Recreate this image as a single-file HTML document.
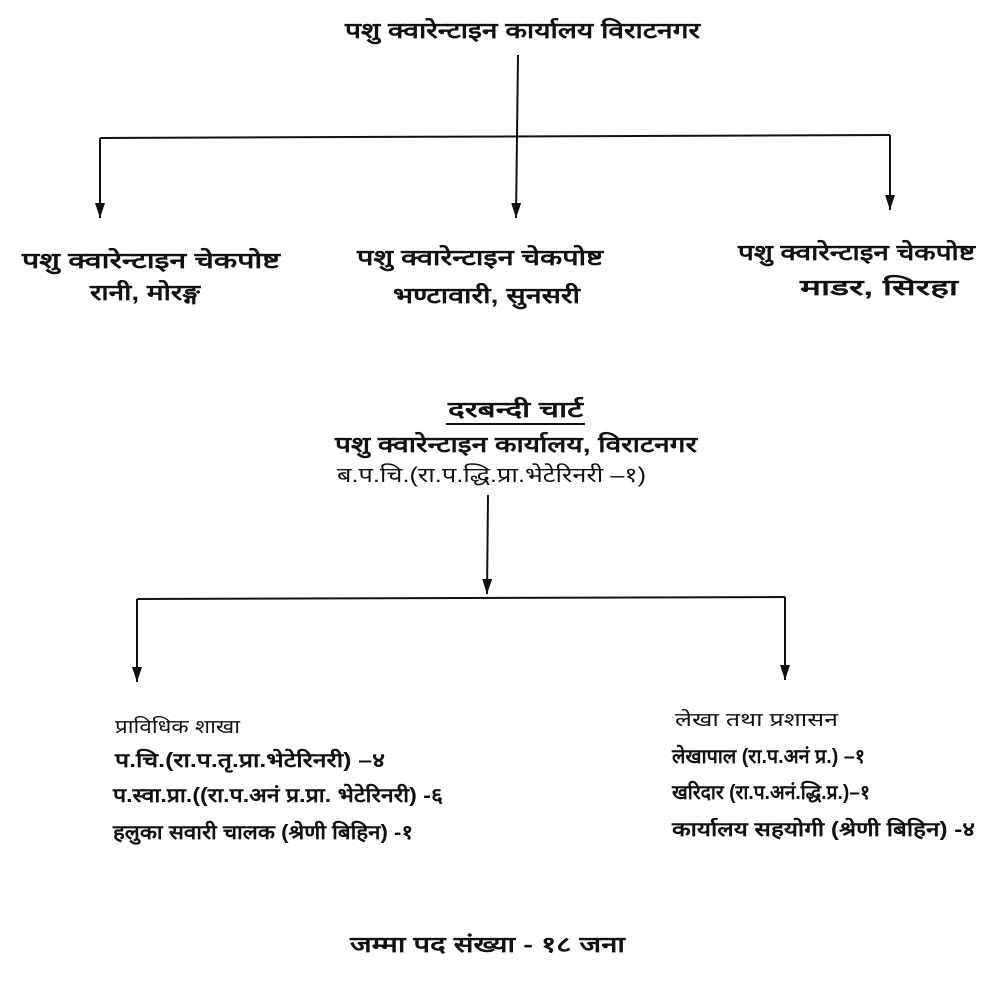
<!DOCTYPE html>
<html><head><meta charset="utf-8"><style>
html,body{margin:0;padding:0;background:#fff;}
svg{display:block}
text{font-family:"Liberation Sans","Noto Sans CJK SC",sans-serif;fill:#111;}
.b{font-weight:bold;font-size:22px}
.n{font-size:21px}
.s{font-weight:bold;font-size:20px}
</style></head><body>
<svg width="995" height="1000" viewBox="0 0 995 1000" xmlns="http://www.w3.org/2000/svg">
<defs><marker id="a" markerWidth="16" markerHeight="12" refX="15" refY="5" orient="auto" markerUnits="userSpaceOnUse"><path d="M0,0 L15,5 L0,10 Z" fill="#111"/></marker></defs>
<g stroke="#111" stroke-width="2" fill="none">
<line x1="518" y1="55" x2="516" y2="218" marker-end="url(#a)"/>
<line x1="100" y1="138" x2="890" y2="135"/>
<line x1="100" y1="138" x2="100" y2="218" marker-end="url(#a)"/>
<line x1="890" y1="135" x2="890" y2="210" marker-end="url(#a)"/>
<line x1="488" y1="495" x2="487" y2="594" marker-end="url(#a)"/>
<line x1="137" y1="599" x2="785" y2="597"/>
<line x1="137" y1="599" x2="137" y2="682" marker-end="url(#a)"/>
<line x1="785" y1="597" x2="785" y2="680" marker-end="url(#a)"/>
</g>
<g>
<text class="b" x="345" y="38" textLength="355" lengthAdjust="spacingAndGlyphs">पशु क्वारेन्टाइन कार्यालय विराटनगर</text>
<text class="b" x="22" y="268" textLength="258" lengthAdjust="spacingAndGlyphs">पशु क्वारेन्टाइन चेकपोष्ट</text>
<text class="b" x="90" y="300" textLength="110" lengthAdjust="spacingAndGlyphs">रानी, मोरङ्ग</text>
<text class="b" x="357" y="265" textLength="246" lengthAdjust="spacingAndGlyphs">पशु क्वारेन्टाइन चेकपोष्ट</text>
<text class="b" x="393" y="303" textLength="187" lengthAdjust="spacingAndGlyphs">भण्टावारी, सुनसरी</text>
<text class="b" x="738" y="260" textLength="237" lengthAdjust="spacingAndGlyphs">पशु क्वारेन्टाइन चेकपोष्ट</text>
<text class="b" x="800" y="295" textLength="158" lengthAdjust="spacingAndGlyphs">माडर, सिरहा</text>
<text class="b" x="448" y="417" textLength="135" lengthAdjust="spacingAndGlyphs">दरबन्दी चार्ट</text>
<line x1="446" y1="424" x2="585" y2="424" stroke="#111" stroke-width="2"/>
<text class="b" x="335" y="452" textLength="362" lengthAdjust="spacingAndGlyphs">पशु क्वारेन्टाइन कार्यालय, विराटनगर</text>
<text class="n" x="337" y="482" textLength="309" lengthAdjust="spacingAndGlyphs">ब.प.चि.(रा.प.द्धि.प्रा.भेटेरिनरी –१)</text>
<text class="n" x="115" y="733" style="font-size:19px" textLength="125" lengthAdjust="spacingAndGlyphs">प्राविधिक शाखा</text>
<text class="s" x="115" y="767" textLength="270" lengthAdjust="spacingAndGlyphs">प.चि.(रा.प.तृ.प्रा.भेटेरिनरी) –४</text>
<text class="s" x="113" y="802" textLength="330" lengthAdjust="spacingAndGlyphs">प.स्वा.प्रा.((रा.प.अनं प्र.प्रा. भेटेरिनरी) -६</text>
<text class="s" x="113" y="839" textLength="300" lengthAdjust="spacingAndGlyphs">हलुका सवारी चालक (श्रेणी बिहिन) -१</text>
<text class="n" x="675" y="726" style="font-size:19px" textLength="163" lengthAdjust="spacingAndGlyphs">लेखा तथा प्रशासन</text>
<text class="s" x="672" y="763" textLength="193" lengthAdjust="spacingAndGlyphs">लेखापाल (रा.प.अनं प्र.) –१</text>
<text class="s" x="672" y="799" textLength="198" lengthAdjust="spacingAndGlyphs">खरिदार (रा.प.अनं.द्धि.प्र.)–१</text>
<text class="s" x="672" y="836" textLength="303" lengthAdjust="spacingAndGlyphs">कार्यालय सहयोगी (श्रेणी बिहिन) -४</text>
<text class="b" x="350" y="952" textLength="275" lengthAdjust="spacingAndGlyphs">जम्मा पद संख्या - १८ जना</text>
</g>
</svg>
</body></html>
